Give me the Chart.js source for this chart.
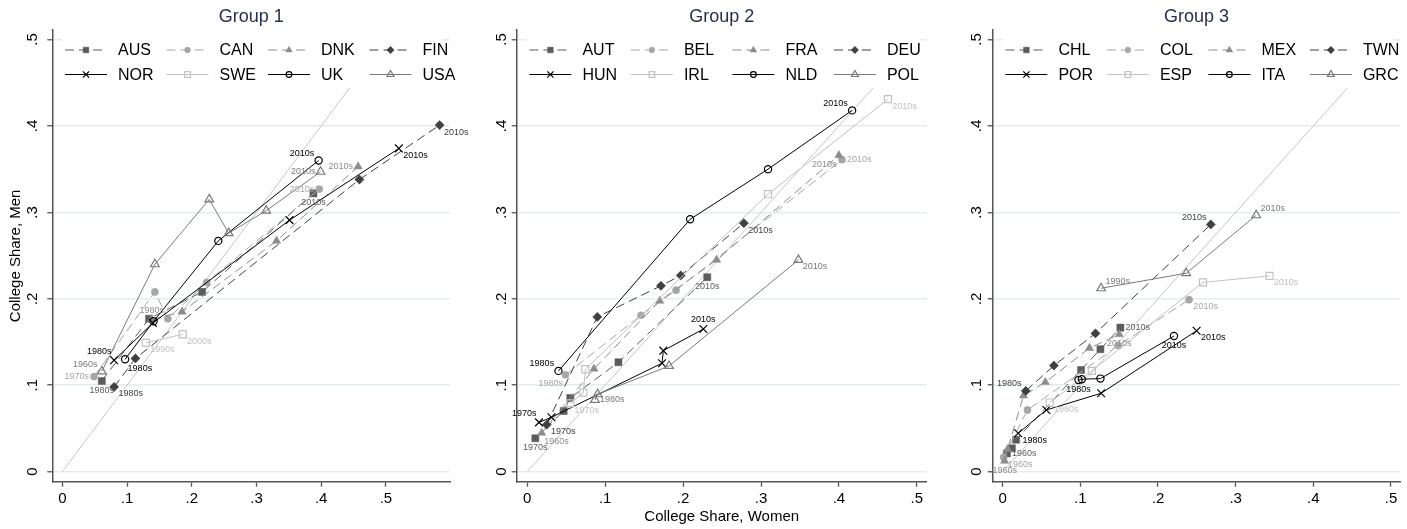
<!DOCTYPE html>
<html>
<head>
<meta charset="utf-8">
<script src="https://cdn.jsdelivr.net/npm/chart.js@4.4.1/dist/chart.umd.min.js"></script>
<style>
  html, body { margin: 0; padding: 0; background: #fff; overflow: hidden; }
  #wrap { position: relative; width: 1407px; height: 529px; }
  canvas { position: absolute; top: 0; }
</style>
</head>
<body>
<div id="wrap">
  <canvas id="c1" width="470" height="529" style="left:0px"></canvas>
  <canvas id="c2" width="467" height="529" style="left:470px"></canvas>
  <canvas id="c3" width="470" height="529" style="left:937px"></canvas>
</div>
<script>
// ticks
const xTicks = [0, .1, .2, .3, .4, .5];
const xTickLabels = ['0', '.1', '.2', '.3', '.4', '.5'];
const yTicks = [0, .1, .2, .3, .4, .5];
const yTickLabels = ['0', '.1', '.2', '.3', '.4', '.5'];
const diag = [[0, 0], [.5, .5]];

// Group 1: [college share women, college share men] by decade
const g1Names = ['AUS', 'CAN', 'DNK', 'FIN', 'NOR', 'SWE', 'UK', 'USA'];
const AUS = [[.061, .105], [.134, .177], [.216, .208], [.388, .322]];
const CAN = [[.049, .110], [.143, .208], [.163, .177], [.223, .219], [.397, .327]];
const DNK = [[.138, .176], [.185, .185], [.331, .267], [.457, .353]];
const FIN = [[.080, .098], [.113, .131], [.459, .338], [.583, .401]];
const NOR = [[.080, .129], [.140, .172], [.351, .291], [.520, .374]];
const SWE = [[.129, .149], [.186, .159]];
const UK  = [[.097, .130], [.141, .174], [.241, .267], [.396, .360]];
const USA = [[.061, .116], [.143, .240], [.227, .315], [.257, .276], [.315, .302], [.399, .347]];
const g1First = ['1980s', '1970s', '1980s', '1980s', '1980s', '1990s', '1980s', '1960s'];
const g1Last  = ['2010s', '2010s', '2010s', '2010s', '2010s', '2000s', '2010s', '2010s'];

// Group 2
const g2Names = ['AUT', 'BEL', 'FRA', 'DEU', 'HUN', 'IRL', 'NLD', 'POL'];
const AUT = [[.0103, .0386], [.0467, .0703], [.0552, .0853], [.117, .1266], [.231, .225]];
const BEL = [[.049, .112], [.146, .181], [.191, .210], [.404, .361]];
const FRA = [[.0185, .0448], [.0856, .119], [.170, .1976], [.243, .245], [.400, .366]];
const DEU = [[.0249, .0544], [.0899, .179], [.1716, .215], [.197, .227], [.278, .2875]];
const HUN = [[.015, .057], [.031, .063], [.173, .1255], [.1746, .140], [.226, .165]];
const IRL = [[.055, .079], [.072, .0915], [.0745, .1185], [.309, .321], [.463, .431]];
const NLD = [[.040, .1166], [.209, .292], [.309, .350], [.417, .418]];
const POL = [[.0869, .083], [.0903, .0896], [.182, .1223], [.348, .245]];
const g2First = ['1970s', '1980s', '1960s', '1970s', '1970s', '1970s', '1980s', '1980s'];
const g2Last  = ['2010s', '2010s', '2010s', '2010s', '2010s', '2010s', '2010s', '2010s'];

// Group 3
const g3Names = ['CHL', 'COL', 'MEX', 'TWN', 'POR', 'ESP', 'ITA', 'GRC'];
const CHL = [[.0055, .0212], [.0119, .027], [.0174, .037], [.101, .1177], [.1259, .1417], [.1516, .1667]];
const COL = [[.0013, .0166], [.032, .0714], [.149, .146], [.240, .199]];
const MEX = [[.0026, .0124], [.0064, .026], [.0269, .088], [.055, .1035], [.1118, .143], [.150, .159]];
const TWN = [[.0298, .0934], [.066, .1227], [.1195, .160], [.268, .286]];
const POR = [[.020, .0444], [.0563, .0714], [.1268, .0907], [.2497, .163]];
const ESP = [[.0606, .080], [.1148, .1166], [.258, .219], [.3436, .2265]];
const ITA = [[.0977, .106], [.102, .107], [.1259, .1077], [.2206, .157]];
const GRC = [[.1268, .2122], [.2364, .2296], [.3265, .2967]];
const g3First = ['1960s', '1960s', '1960s', '1980s', '1980s', '1980s', '1980s', '1990s'];
const g3Last  = ['2010s', '2010s', '2010s', '2010s', '2010s', '2010s', '2010s', '2010s'];

// label positions (clock, like stata mlabpos)
const g1FirstPos = [6, 9, 12, 4, 11, 4, 5, 10];
const g1LastPos  = [6, 9, 9, 4, 4, 4, 10, 9];
const g2FirstPos = [6, 7, 5, 4, 11, 4, 10, 3];
const g2LastPos  = [6, 3, 7, 4, 12, 4, 10, 4];
const g3FirstPos = [3, 4, 6, 10, 4, 4, 6, 2];
const g3LastPos  = [3, 4, 6, 10, 4, 4, 6, 2];

const FONT = "'Liberation Sans', Arial, Helvetica, sans-serif";
Chart.defaults.font.family = FONT;

const seriesStyle = [
  { color: '#5c5c5c', dash: [9, 5], point: 'rect', radius: 5, fill: true },
  { color: '#a6a6a6', dash: [9, 5], point: 'circle', radius: 3.6, fill: true },
  { color: '#8c8c8c', dash: [9, 5], point: 'triangle', radius: 4.8, fill: true },
  { color: '#404040', dash: [9, 5], point: 'rectRot', radius: 4.6, fill: true },
  { color: '#000000', dash: [], point: 'crossRot', radius: 5.5, fill: false },
  { color: '#c2c2c2', dash: [], point: 'rect', radius: 5, fill: false },
  { color: '#000000', dash: [], point: 'circle', radius: 3.6, fill: false },
  { color: '#7a7a7a', dash: [], point: 'triangle', radius: 5, fill: false }
];

const panels = [
  { id: 'c1', title: 'Group 1', names: g1Names, series: [AUS, CAN, DNK, FIN, NOR, SWE, UK, USA],
    first: g1First, last: g1Last, firstPos: g1FirstPos, lastPos: g1LastPos,
    xMin: -0.0155, xMax: 0.599, yAxisW: 52.3, padRight: 20, yTickPad: 8.3,
    yTitle: 'College Share, Men', xTitle: '' },
  { id: 'c2', title: 'Group 2', names: g2Names, series: [AUT, BEL, FRA, DEU, HUN, IRL, NLD, POL],
    first: g2First, last: g2Last, firstPos: g2FirstPos, lastPos: g2LastPos,
    xMin: -0.0136, xMax: 0.5127, yAxisW: 46.7, padRight: 10.3, yTickPad: 3.8,
    yTitle: '', xTitle: 'College Share, Women' },
  { id: 'c3', title: 'Group 3', names: g3Names, series: [CHL, COL, MEX, TWN, POR, ESP, ITA, GRC],
    first: g3First, last: g3Last, firstPos: g3FirstPos, lastPos: g3LastPos,
    xMin: -0.0128, xMax: 0.512, yAxisW: 55.7, padRight: 4.3, yTickPad: 4.1,
    yTitle: '', xTitle: '' }
];

function clockOffset(pos) {
  const a = pos * Math.PI / 6, r = 5;
  const dx = Math.sin(a) * r, dy = -Math.cos(a) * r;
  const align = dx > 1 ? 'left' : dx < -1 ? 'right' : 'center';
  const base = dy < -1 ? 'bottom' : dy > 1 ? 'top' : 'middle';
  return { dx, dy, align, base };
}

// decade labels at the first and last point of each series
const pointLabels = {
  id: 'pointLabels',
  afterDatasetsDraw(chart) {
    const ctx = chart.ctx;
    ctx.save();
    ctx.font = '9px ' + FONT;
    chart.data.datasets.forEach((ds, i) => {
      if (!ds.tags) return;
      const meta = chart.getDatasetMeta(i);
      ds.tags.forEach(([idx, text, pos]) => {
        const el = meta.data[idx];
        const o = clockOffset(pos);
        ctx.fillStyle = ds.borderColor;
        ctx.textAlign = o.align;
        ctx.textBaseline = o.base;
        ctx.fillText(text, el.x + o.dx, el.y + o.dy);
      });
    });
    ctx.restore();
  }
};

// stata-like legend inside the plot region, 4 columns
const boxLegend = {
  id: 'boxLegend',
  afterDatasetsDraw(chart) {
    const ctx = chart.ctx, ca = chart.chartArea;
    ctx.save();
    ctx.fillStyle = '#fff';
    ctx.fillRect(ca.left + 10, ca.top + 1, ca.right - ca.left - 17, 57);
    chart.data.datasets.forEach((ds, i) => {
      if (!ds.tags) return;
      const col = i % 4, row = Math.floor(i / 4);
      const lx = ca.left + 12.7 + col * 101.5;
      const ly = ca.top + 20 + row * 24.5;
      ctx.strokeStyle = ds.borderColor;
      ctx.lineWidth = 1;
      ctx.setLineDash(ds.borderDash);
      ctx.beginPath();
      ctx.moveTo(lx, ly);
      ctx.lineTo(lx + 42, ly);
      ctx.stroke();
      ctx.setLineDash([]);
      ctx.fillStyle = ds.pointBackgroundColor;
      ctx.strokeStyle = ds.pointBorderColor;
      ctx.lineWidth = ds.pointBorderWidth;
      Chart.helpers.drawPoint(ctx, {
        pointStyle: ds.pointStyle, radius: ds.pointRadius * 0.8,
        borderWidth: ds.pointBorderWidth, rotation: 0
      }, lx + 21, ly);
      ctx.fillStyle = '#000';
      ctx.font = '16px ' + FONT;
      ctx.textAlign = 'left';
      ctx.textBaseline = 'middle';
      ctx.fillText(ds.label, lx + 53, ly + 1);
    });
    ctx.restore();
  }
};

function makeChart(p) {
  const datasets = p.series.map((pts, i) => {
    const s = seriesStyle[i];
    return {
      label: p.names[i],
      data: pts.map(([x, y]) => ({ x, y })),
      showLine: true,
      borderColor: s.color,
      borderWidth: 1,
      borderDash: s.dash,
      pointStyle: s.point,
      pointRadius: s.radius,
      pointBorderColor: s.color,
      pointBackgroundColor: s.fill ? s.color : 'rgba(255,255,255,0)',
      pointBorderWidth: s.fill ? 0.5 : 1.2,
      order: -i,
      tags: [[0, p.first[i], p.firstPos[i]], [pts.length - 1, p.last[i], p.lastPos[i]]]
    };
  });
  datasets.push({
    label: '45',
    data: diag.map(([x, y]) => ({ x, y })),
    showLine: true,
    borderColor: '#c6c6c6',
    borderWidth: 1,
    pointRadius: 0,
    order: 1
  });

  new Chart(document.getElementById(p.id), {
    type: 'scatter',
    data: { datasets },
    options: {
      responsive: false,
      animation: false,
      events: [],
      layout: { padding: { left: 0, right: p.padRight, top: 0, bottom: 0 } },
      plugins: {
        legend: { display: false },
        tooltip: { enabled: false },
        title: {
          display: true, text: p.title, fullSize: false, color: '#25304d',
          font: { size: 18, weight: 'normal' }, padding: { top: 6, bottom: 2.4 }
        }
      },
      scales: {
        x: {
          type: 'linear', min: p.xMin, max: p.xMax,
          afterBuildTicks: sc => { sc.ticks = xTicks.map(v => ({ value: v })); },
          afterFit: sc => { sc.height = 47.3; },
          ticks: {
            callback: (v, i) => xTickLabels[i], autoSkip: false, maxRotation: 0,
            font: { size: 15 }, color: '#000', padding: 3
          },
          grid: { drawOnChartArea: false, tickLength: 5, tickColor: '#555', tickWidth: 1.3 },
          border: { color: '#555', width: 1.5 },
          title: {
            display: !!p.xTitle, text: p.xTitle, color: '#000',
            font: { size: 15 }, padding: { top: 0, bottom: 3.3 }
          }
        },
        y: {
          type: 'linear', min: -0.0116, max: 0.511,
          afterBuildTicks: sc => { sc.ticks = yTicks.map(v => ({ value: v })); },
          afterFit: sc => { sc.width = p.yAxisW; },
          ticks: {
            callback: (v, i) => yTickLabels[i], autoSkip: false,
            minRotation: 90, maxRotation: 90, crossAlign: 'center',
            font: { size: 15 }, color: '#000', padding: p.yTickPad
          },
          grid: { color: '#e4ecec', lineWidth: 1.5, tickLength: 5, tickColor: '#555', tickWidth: 1.3 },
          border: { color: '#555', width: 1.5 },
          title: {
            display: !!p.yTitle, text: p.yTitle, color: '#000',
            font: { size: 15 }, padding: { top: 6.8, bottom: 0 }
          }
        }
      }
    },
    plugins: [pointLabels, boxLegend]
  });
}

panels.forEach(makeChart);
</script>
</body>
</html>
